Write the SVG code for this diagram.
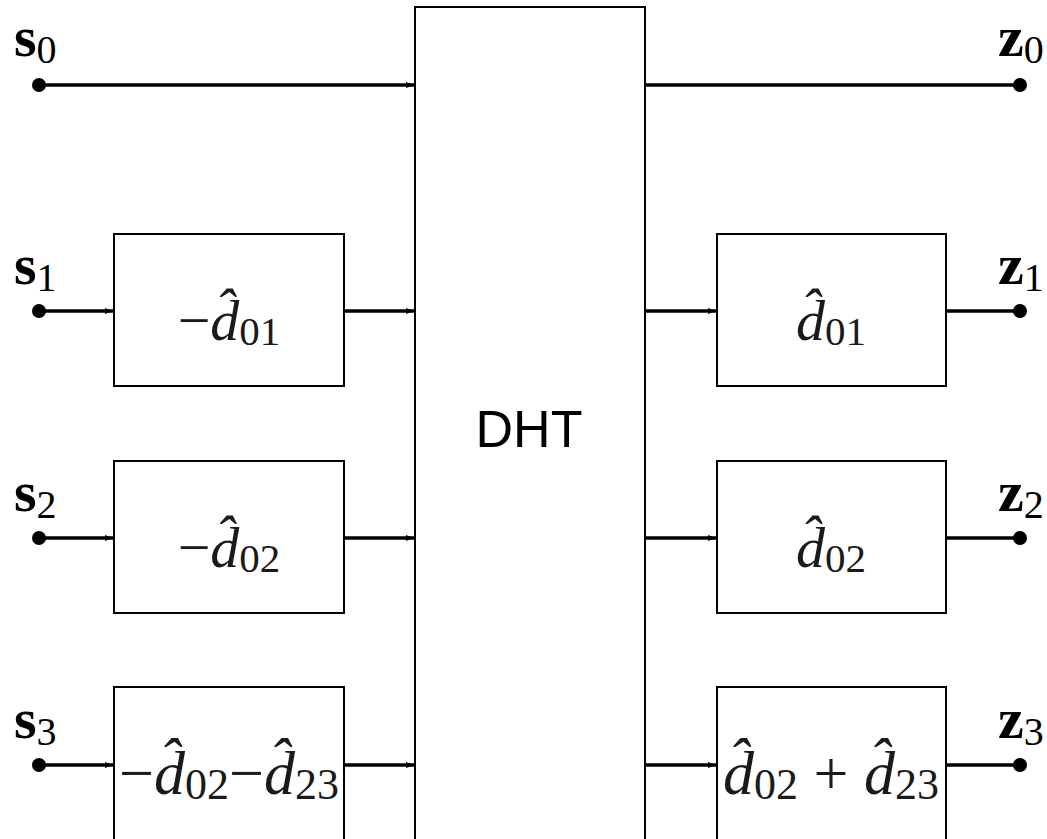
<svg xmlns="http://www.w3.org/2000/svg" width="1047" height="839" viewBox="0 0 1047 839">
<style>
.box{fill:#fff;stroke:#000;stroke-width:2}
.ln{stroke:#000;stroke-width:3.5;fill:none}
text{font-family:"Liberation Serif","Times New Roman",serif}
.lbl{font-weight:bold;font-size:58px}
.sub{font-weight:normal;font-size:40px}
.m{font-size:58px;fill:#1a1a1a}
.m2{font-size:62px;fill:#1a1a1a}
.ms{font-style:normal;font-size:41px}
.ms2{font-style:normal;font-size:44px}
.dht{font-family:"Liberation Sans",Arial,sans-serif;font-size:52px}
</style>
<defs>
<marker id="ah" markerWidth="9" markerHeight="7" refX="8" refY="3.5" orient="auto" markerUnits="userSpaceOnUse">
<path d="M0,0.5 L8,3.5 L0,6.5 z" fill="#000"/>
</marker>
</defs>
<rect width="1047" height="839" fill="#fff"/>
<g id="connectors">
<line class="ln" x1="39" y1="85" x2="414" y2="85" marker-end="url(#ah)"/>
<line class="ln" x1="646" y1="85" x2="1020" y2="85"/>
<line class="ln" x1="39" y1="311" x2="113" y2="311" marker-end="url(#ah)"/>
<line class="ln" x1="345" y1="311" x2="414" y2="311" marker-end="url(#ah)"/>
<line class="ln" x1="646" y1="311" x2="716" y2="311" marker-end="url(#ah)"/>
<line class="ln" x1="947" y1="311" x2="1020" y2="311"/>
<line class="ln" x1="39" y1="538" x2="113" y2="538" marker-end="url(#ah)"/>
<line class="ln" x1="345" y1="538" x2="414" y2="538" marker-end="url(#ah)"/>
<line class="ln" x1="646" y1="538" x2="716" y2="538" marker-end="url(#ah)"/>
<line class="ln" x1="947" y1="538" x2="1020" y2="538"/>
<line class="ln" x1="39" y1="765" x2="113" y2="765" marker-end="url(#ah)"/>
<line class="ln" x1="345" y1="765" x2="414" y2="765" marker-end="url(#ah)"/>
<line class="ln" x1="646" y1="765" x2="716" y2="765" marker-end="url(#ah)"/>
<line class="ln" x1="947" y1="765" x2="1020" y2="765"/>
<g fill="#000">
<circle cx="39" cy="85" r="7"/><circle cx="1020" cy="85" r="7"/>
<circle cx="39" cy="311" r="7"/><circle cx="1020" cy="311" r="7"/>
<circle cx="39" cy="538" r="7"/><circle cx="1020" cy="538" r="7"/>
<circle cx="39" cy="765" r="7"/><circle cx="1020" cy="765" r="7"/>
</g>
</g>
<g id="dht">
<rect class="box" x="415" y="7" width="230" height="840"/>
<text class="dht" x="529" y="447" text-anchor="middle">DHT</text>
</g>
<g id="inputs">
<text class="lbl" x="14" y="56">s<tspan class="sub" dy="7">0</tspan></text>
<text class="lbl" x="14" y="284">s<tspan class="sub" dy="7">1</tspan></text>
<text class="lbl" x="14" y="511">s<tspan class="sub" dy="7">2</tspan></text>
<text class="lbl" x="14" y="738">s<tspan class="sub" dy="7">3</tspan></text>
</g>
<g id="outputs">
<text class="lbl" x="998" y="56">z<tspan class="sub" dy="7">0</tspan></text>
<text class="lbl" x="998" y="284">z<tspan class="sub" dy="7">1</tspan></text>
<text class="lbl" x="998" y="511">z<tspan class="sub" dy="7">2</tspan></text>
<text class="lbl" x="998" y="738">z<tspan class="sub" dy="7">3</tspan></text>
</g>
<g id="box-l1">
<rect class="box" x="114" y="234" width="230" height="152"/>
<text class="m" x="229" y="340" text-anchor="middle">−<tspan font-style="italic">d̂</tspan><tspan class="ms" dy="5">01</tspan></text>
</g>
<g id="box-l2">
<rect class="box" x="114" y="461" width="230" height="152"/>
<text class="m" x="229" y="567" text-anchor="middle">−<tspan font-style="italic">d̂</tspan><tspan class="ms" dy="5">02</tspan></text>
</g>
<g id="box-l3">
<rect class="box" x="114" y="687" width="230" height="160"/>
<text class="m2" x="229" y="794" text-anchor="middle">−<tspan font-style="italic">d̂</tspan><tspan class="ms2" dy="5">02</tspan><tspan dy="-5">−</tspan><tspan font-style="italic">d̂</tspan><tspan class="ms2" dy="5">23</tspan></text>
</g>
<g id="box-r1">
<rect class="box" x="717" y="234" width="229" height="152"/>
<text class="m" x="831" y="340" text-anchor="middle"><tspan font-style="italic">d̂</tspan><tspan class="ms" dy="5">01</tspan></text>
</g>
<g id="box-r2">
<rect class="box" x="717" y="461" width="229" height="152"/>
<text class="m" x="831" y="567" text-anchor="middle"><tspan font-style="italic">d̂</tspan><tspan class="ms" dy="5">02</tspan></text>
</g>
<g id="box-r3">
<rect class="box" x="717" y="687" width="229" height="160"/>
<text class="m2" x="831" y="794" text-anchor="middle"><tspan font-style="italic">d̂</tspan><tspan class="ms2" dy="5">02</tspan><tspan dy="-5"> + </tspan><tspan font-style="italic">d̂</tspan><tspan class="ms2" dy="5">23</tspan></text>
</g>
</svg>
